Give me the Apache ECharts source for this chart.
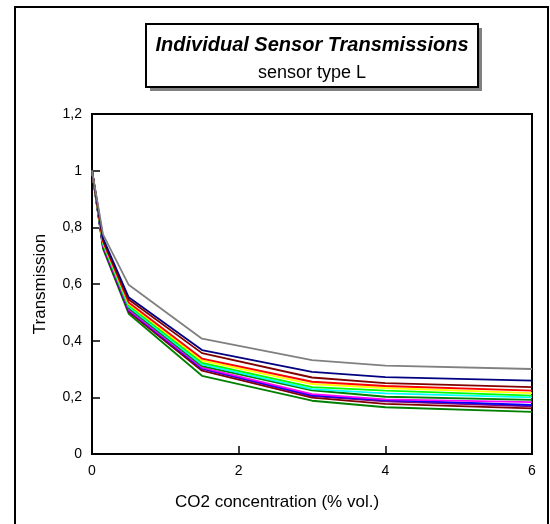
<!DOCTYPE html>
<html>
<head>
<meta charset="utf-8">
<script src="https://cdn.jsdelivr.net/npm/echarts@6/dist/echarts.min.js"></script>
<style>
html,body{margin:0;padding:0;background:#fff;}
#chart{width:550px;height:524px;}
</style>
</head>
<body>
<div id="chart"></div>
<script>
var xValues = [0, 0.15, 0.5, 1.5, 3, 4, 6];
var seriesNames = ['S1','S2','S3','S4','S5','S6','S7','S8','S9','S10','S11','S12','S13'];
var seriesColors = ['#808080','#000080','#800000','#FF0000','#FFFF00','#00FF00','#00FFFF','#008000','#FF00FF','#0000FF','#800080','#800000','#008000'];
var s1  = [1, 0.775, 0.597, 0.407, 0.331, 0.312, 0.300];
var s2  = [1, 0.762, 0.553, 0.367, 0.290, 0.271, 0.259];
var s3  = [1, 0.755, 0.545, 0.356, 0.270, 0.250, 0.236];
var s4  = [1, 0.750, 0.535, 0.337, 0.255, 0.240, 0.224];
var s5  = [1, 0.748, 0.530, 0.330, 0.247, 0.233, 0.215];
var s6  = [1, 0.745, 0.525, 0.322, 0.236, 0.224, 0.206];
var s7  = [1, 0.742, 0.520, 0.316, 0.229, 0.214, 0.200];
var s8  = [1, 0.740, 0.515, 0.310, 0.225, 0.202, 0.191];
var s9  = [1, 0.737, 0.510, 0.305, 0.211, 0.193, 0.183];
var s10 = [1, 0.735, 0.508, 0.302, 0.207, 0.190, 0.173];
var s11 = [1, 0.733, 0.505, 0.300, 0.204, 0.186, 0.168];
var s12 = [1, 0.730, 0.502, 0.294, 0.199, 0.177, 0.161];
var s13 = [1, 0.725, 0.495, 0.276, 0.188, 0.165, 0.149];
var allValues = [s1,s2,s3,s4,s5,s6,s7,s8,s9,s10,s11,s12,s13];
var yTicks = ['0','0,2','0,4','0,6','0,8','1','1,2'];
var titleText = 'Individual Sensor Transmissions';
var subtitleText = 'sensor type L';
var xName = 'CO2 concentration (% vol.)';
var yName = 'Transmission';

var chart = echarts.init(document.getElementById('chart'), null, {renderer:'canvas'});
var font = '"Liberation Sans", Arial, sans-serif';
var series = allValues.map(function(vals, i){
  return {
    name: seriesNames[i], type:'line', symbol:'none', z: 20 - i,
    lineStyle:{color: seriesColors[i], width: 1.8},
    data: xValues.map(function(x, j){ return [x, vals[j]]; })
  };
});
chart.setOption({
  animation:false,
  backgroundColor:'#fff',
  grid:{left:92, top:114, width:440, height:340, show:true, borderColor:'#000', borderWidth:2, backgroundColor:'transparent'},
  xAxis:{type:'value', min:0, max:6, interval:2,
    axisLine:{show:true, lineStyle:{color:'#000', width:2}},
    axisTick:{show:true, inside:true, length:8, lineStyle:{color:'#000', width:1.5}},
    axisLabel:{fontFamily:font, fontSize:14, color:'#000', margin:10},
    splitLine:{show:false}},
  yAxis:{type:'value', min:0, max:1.2, interval:0.2,
    name:yName, nameLocation:'middle', nameGap:43, nameRotate:90,
    nameTextStyle:{fontFamily:font, fontSize:17, color:'#000'},
    axisLine:{show:true, lineStyle:{color:'#000', width:2}},
    axisTick:{show:true, inside:true, length:8, lineStyle:{color:'#000', width:1.5}},
    axisLabel:{fontFamily:font, fontSize:14, color:'#000', margin:10,
      formatter:function(v){ return yTicks[Math.round(v/0.2)]; }},
    splitLine:{show:false}},
  graphic:[
    {type:'rect', shape:{x:15, y:7, width:533, height:530}, style:{fill:'none', stroke:'#000', lineWidth:2}, silent:true},
    {type:'rect', shape:{x:150, y:28, width:332, height:63}, style:{fill:'#808080'}, silent:true},
    {type:'rect', shape:{x:146, y:24, width:332, height:63}, style:{fill:'#fff', stroke:'#000', lineWidth:2}, silent:true},
    {type:'text', x:312, y:45, style:{text:titleText, font:'italic bold 20px "Liberation Sans", Arial, sans-serif', fill:'#000', textAlign:'center', textVerticalAlign:'middle'}, silent:true},
    {type:'text', x:312, y:73, style:{text:subtitleText, font:'18px "Liberation Sans", Arial, sans-serif', fill:'#000', textAlign:'center', textVerticalAlign:'middle'}, silent:true},
    {type:'text', x:277, y:502, style:{text:xName, font:'17px "Liberation Sans", Arial, sans-serif', fill:'#000', textAlign:'center', textVerticalAlign:'middle'}, silent:true}
  ],
  series: series
});
</script>
</body>
</html>
